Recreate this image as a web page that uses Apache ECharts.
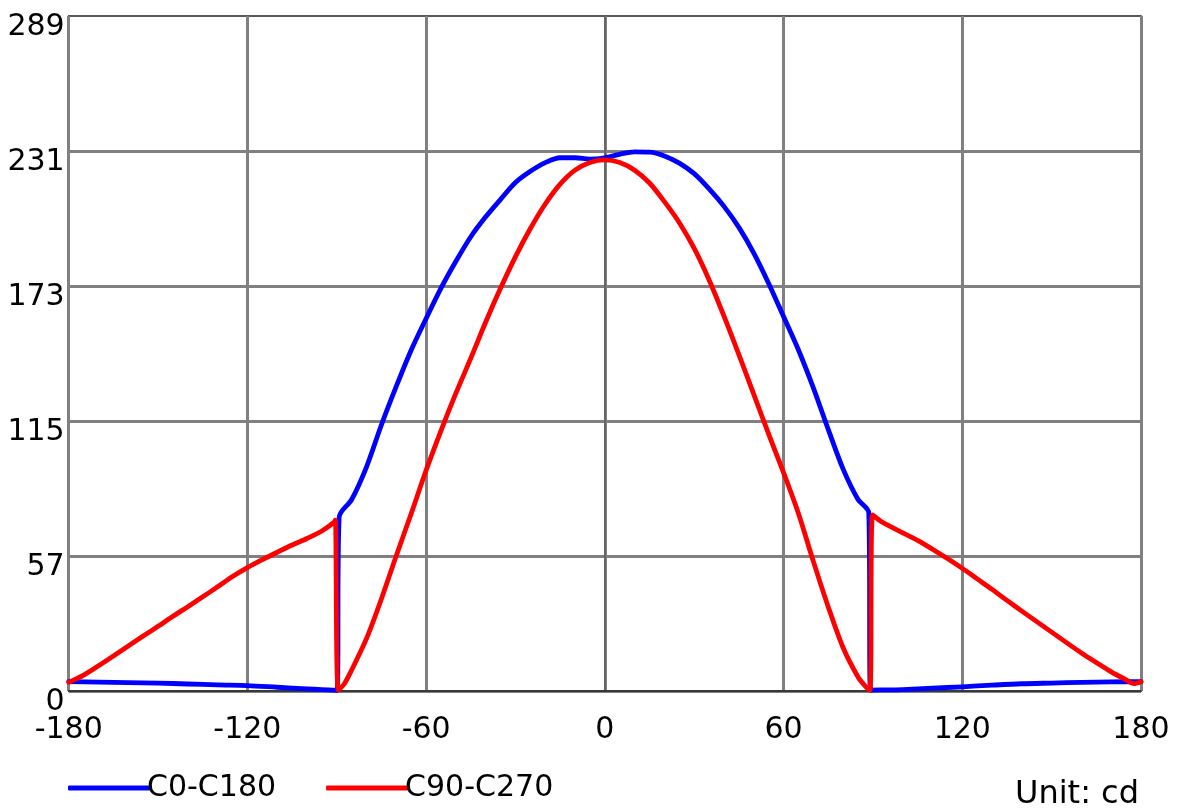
<!DOCTYPE html>
<html>
<head>
<meta charset="utf-8">
<script src="https://cdn.jsdelivr.net/npm/echarts@6/dist/echarts.min.js"></script>
<style>
html,body{margin:0;padding:0;background:#fff;}
#chart{width:1183px;height:810px;}
</style>
</head>
<body>
<div id="chart"></div>
<script>
const seriesNames = ['C0-C180', 'C90-C270'];
const xTicks = [-180, -120, -60, 0, 60, 120, 180];
const yMax = 289;

const c0Data = [
  [-180,4.0],[-170,3.8],[-160,3.6],[-150,3.4],[-140,3.0],[-130,2.6],[-120,2.3],[-110,1.6],[-100,0.9],[-95,0.6],[-90,0.3],
  [-89.2,74.5],[-85,82],[-80,96],[-75,114],[-70,130.5],[-65,146],[-60,159.5],[-55,172.5],[-50,184],[-45,194.5],
  [-40,203],[-35,210.5],[-30,217.7],[-25,222.5],[-20,226.2],[-15,228.3],[-10,228.3],[-5,227.7],[0,228.3],[5,229.8],
  [10,230.8],[15,230.7],[20,229.1],[25,226],[30,221.5],[35,215],[40,207.5],[45,198.5],[50,187.5],[55,174.5],[60,160.3],
  [65,146],[70,129.8],[75,112],[80,95],[85,82],[88.6,76.3],
  [89.2,0.4],[95,0.5],[100,0.6],[110,1.2],[120,1.8],[130,2.5],[140,3.1],[150,3.4],[160,3.7],[170,3.9],[180,4.0]
];

const c90Data = [
  [-180,3.7],[-175,6.8],[-170,10.8],[-165,15],[-160,19.3],[-155,23.5],[-150,27.7],[-145,32],[-140,36.1],[-135,40.3],
  [-130,44.6],[-125,49],[-120,52.8],[-115,56.2],[-110,59.4],[-105,62.5],[-100,65.3],[-95,68.5],[-91,72.2],[-90.5,73.2],
  [-89.5,0.4],[-87.5,3.0],[-85,9],[-80,22.5],[-75,39.5],[-70,58],[-65,76],[-60,94.5],[-55,111.5],[-50,127.5],
  [-45,142.5],[-40,158],[-35,172.5],[-30,186],[-25,198],[-20,208.5],[-15,217],[-10,223],[-5,226.3],[0,227.4],
  [5,226.3],[10,223],[15,217.5],[20,209.5],[25,200.5],[30,189.5],[35,176],[40,160.5],[45,144],[50,127],[55,110],
  [60,93.5],[65,76],[70,55.5],[75,36],[80,18.5],[85,6],[87.5,2],[89,0.4],
  [89.9,75.4],[92.5,72.8],[95,71],[100,67.7],[105,64.5],[110,60.7],[115,56.7],[120,52.5],[125,48],[130,43.5],
  [135,38.8],[140,34.2],[145,29.7],[150,25.2],[155,20.7],[160,16.3],[165,12.2],[170,8.2],[175,4.8],[177.5,3.2],[180,4.0]
];

const FONT = 'DejaVu Sans';
const chart = echarts.init(document.getElementById('chart'));
chart.setOption({
  animation: false,
  backgroundColor: '#fff',
  textStyle: { fontFamily: FONT },
  grid: {
    left: 68.7, right: 42, top: 16, bottom: 119,
    show: true, borderColor: '#222', borderWidth: 1.5, backgroundColor: 'transparent'
  },
  legend: {
    left: 63, top: 768,
    itemWidth: 82, itemHeight: 5, itemGap: 50,
    icon: 'roundRect',
    textStyle: { fontFamily: FONT, fontSize: 30, color: '#000', padding: [0, 0, 0, -8] },
    data: seriesNames
  },
  graphic: [{
    type: 'text', right: 44, top: 779,
    style: { text: 'Unit: cd', font: '32px "DejaVu Sans"', fill: '#000' }
  }],
  xAxis: {
    type: 'value', min: xTicks[0], max: xTicks[xTicks.length - 1], interval: 60,
    axisLine: { show: true, onZero: false, lineStyle: { color: '#222', width: 1.5 } },
    axisTick: { show: false },
    axisLabel: { fontFamily: FONT, fontSize: 30, color: '#000', margin: 24 },
    splitLine: { show: true, showMaxLine: true, lineStyle: { color: '#808080', width: 3 } }
  },
  yAxis: {
    type: 'value', min: 0, max: yMax, interval: yMax / 5,
    axisLine: { show: true, lineStyle: { color: '#666', width: 2 } },
    axisTick: { show: false },
    axisLabel: {
      fontFamily: FONT, fontSize: 30, color: '#000', margin: 4,
      verticalAlign: 'top', lineHeight: 22,
      formatter: v => String(Math.floor(v + 1e-6))
    },
    splitLine: { show: true, showMaxLine: false, lineStyle: { color: '#808080', width: 3 } }
  },
  series: [
    {
      name: seriesNames[0], type: 'line', data: c0Data, symbol: 'none',
      smooth: 0.3,
      lineStyle: { color: '#0000ff', width: 4.8, cap: 'round', join: 'round' },
      itemStyle: { color: '#0000ff' }, z: 3
    },
    {
      name: seriesNames[1], type: 'line', data: c90Data, symbol: 'none',
      smooth: 0.3,
      lineStyle: { color: '#ff0000', width: 4.8, cap: 'round', join: 'round' },
      itemStyle: { color: '#ff0000' }, z: 4
    }
  ]
});
</script>
</body>
</html>
